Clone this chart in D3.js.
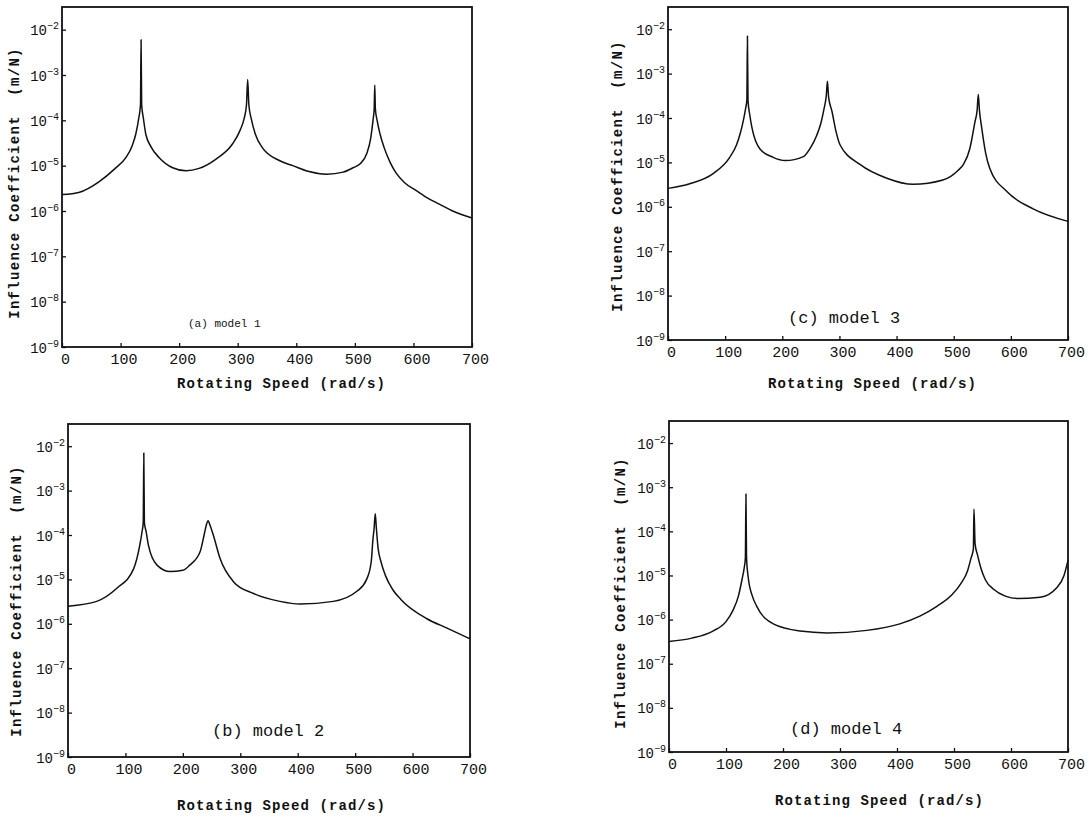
<!DOCTYPE html>
<html>
<head>
<meta charset="utf-8">
<script src="https://cdn.jsdelivr.net/npm/d3@7"></script>
<style>
  body { margin: 0; background: #fff; }
  svg { display: block; }
  text { font-family: "Liberation Mono", "DejaVu Sans Mono", monospace; fill: #111; }
</style>
</head>
<body>
<div id="chart"></div>
<script>
// tick values shared by the four panels
var speedTicks = [0, 100, 200, 300, 400, 500, 600, 700];
var decadeTicks = [1e-9, 1e-8, 1e-7, 1e-6, 1e-5, 1e-4, 1e-3, 1e-2];

// [rotating speed (rad/s), influence coefficient (m/N)]
var model1 = [[0, 2.3e-6], [30, 2.6e-6], [63, 4.4e-6], [90, 8.5e-6], [109, 1.5e-5], [120, 2.8e-5],
  [126, 5e-5], [131, 1.1e-4], [134, 2.2e-4], [135, 6e-3], [136, 2.2e-4], [139, 1.1e-4], [143, 5e-5],
  [152, 2.6e-5], [166, 1.5e-5], [189, 9e-6], [212, 7.7e-6], [234, 8.7e-6], [263, 1.4e-5], [291, 3e-5],
  [304, 6e-5], [311, 1.1e-4], [315, 2.2e-4], [317, 8e-4], [319, 2.2e-4], [323, 1.1e-4], [330, 5e-5],
  [342, 2.5e-5], [371, 1.3e-5], [394, 1e-5], [420, 7.5e-6], [452, 6.5e-6], [480, 7.2e-6], [497, 9e-6],
  [509, 1.1e-5], [520, 1.8e-5], [527, 4e-5], [531, 1e-4], [533, 1.8e-4], [534, 6e-4], [535, 1.8e-4],
  [538, 1e-4], [543, 5e-5], [550, 2.5e-5], [560, 1.2e-5], [570, 7e-6], [585, 4.2e-6], [605, 2.8e-6],
  [625, 1.9e-6], [645, 1.4e-6], [667, 1e-6], [700, 7e-7]];

var model2 = [[0, 2.5e-6], [50, 3.2e-6], [85, 6.3e-6], [114, 1.7e-5], [125, 5.9e-5], [129, 1.2e-4],
  [131, 1.9e-4], [132, 7e-3], [133, 1.9e-4], [136, 1.2e-4], [140, 5.9e-5], [155, 2.1e-5], [178, 1.5e-5],
  [200, 1.6e-5], [212, 2.1e-5], [230, 4.2e-5], [237, 1e-4], [241, 1.7e-4], [244, 2.1e-4], [247, 1.7e-4],
  [253, 1e-4], [265, 2.9e-5], [288, 8.9e-6], [323, 4.8e-6], [369, 3.2e-6], [404, 2.8e-6], [462, 3.2e-6],
  [503, 5.4e-6], [520, 1e-5], [528, 2.5e-5], [531, 8e-5], [533, 1.4e-4], [535, 3e-4], [537, 1.4e-4],
  [540, 5e-5], [545, 2.5e-5], [553, 1.2e-5], [565, 6e-6], [580, 3.5e-6], [625, 1.3e-6], [660, 8e-7],
  [700, 4.6e-7]];

var model3 = [[0, 2.6e-6], [38, 3.3e-6], [79, 5.6e-6], [108, 1.3e-5], [120, 2.5e-5], [126, 4.3e-5],
  [132, 9e-5], [136, 1.7e-4], [138, 2.5e-4], [139, 7e-3], [140, 2.5e-4], [143, 1.2e-4], [147, 6e-5],
  [161, 2e-5], [184, 1.3e-5], [205, 1.1e-5], [237, 1.35e-5], [250, 2.2e-5], [260, 4e-5], [268, 8e-5],
  [273, 1.6e-4], [277, 3.2e-4], [279, 6.7e-4], [281, 3e-4], [287, 1.4e-4], [294, 5e-5], [301, 2.5e-5],
  [336, 9e-6], [383, 4.4e-6], [429, 3.2e-6], [481, 4e-6], [507, 6.5e-6], [517, 9e-6], [528, 2e-5],
  [532, 3.5e-5], [537, 8e-5], [541, 1.5e-4], [543, 3.4e-4], [545, 1.5e-4], [549, 6e-5], [556, 1.6e-5],
  [563, 7.4e-6], [593, 2.2e-6], [639, 9e-7], [700, 4.7e-7]];

var model4 = [[0, 3.2e-7], [40, 3.8e-7], [77, 5.5e-7], [100, 9e-7], [112, 1.6e-6], [122, 3.5e-6],
  [128, 8e-6], [132, 1.5e-5], [134, 2.5e-5], [135, 7e-4], [136, 2.5e-5], [139, 9e-6], [146, 3.5e-6],
  [154, 2e-6], [183, 8e-7], [230, 5.5e-7], [277, 5e-7], [347, 5.7e-7], [405, 8e-7], [440, 1.2e-6],
  [470, 2e-6], [495, 3.5e-6], [512, 6.5e-6], [524, 1.3e-5], [530, 2.5e-5], [534, 4e-5], [535, 3.2e-4],
  [537, 5.2e-5], [541, 3e-5], [547, 1.5e-5], [555, 8e-6], [570, 4.8e-6], [590, 3.4e-6], [611, 3e-6],
  [651, 3.2e-6], [681, 5.4e-6], [693, 1e-5], [700, 2.2e-5]];

var panelLabels = ["(a) model 1", "(b) model 2", "(c) model 3", "(d) model 4"];
var xTitle = "Rotating Speed (rad/s)";
var yTitle = "Influence Coefficient  (m/N)";

// layout of the four boxes on the page: [left, top, right, bottom]
var panels = [
  { data: model1, label: panelLabels[0], box: [62, 7, 472, 347], labelAt: [188, 327], labelSize: 11, xTitleAt: [177, 388], yTitleAt: [14, 183] },
  { data: model2, label: panelLabels[1], box: [68, 424, 470, 757], labelAt: [212, 736], labelSize: 17, xTitleAt: [177, 810], yTitleAt: [16, 601] },
  { data: model3, label: panelLabels[2], box: [668, 7, 1068, 340], labelAt: [788, 323], labelSize: 17, xTitleAt: [768, 388], yTitleAt: [617, 176] },
  { data: model4, label: panelLabels[3], box: [669, 421, 1068, 752], labelAt: [790, 734], labelSize: 17, xTitleAt: [775, 805], yTitleAt: [620, 593] }
];

var svg = d3.select("#chart")
  .append("svg")
  .attr("width", 1092)
  .attr("height", 817);

panels.forEach(function(p) {
  var left = p.box[0], top = p.box[1], right = p.box[2], bottom = p.box[3];

  var x = d3.scaleLinear().domain([0, 700]).range([left, right]);
  var y = d3.scaleLog().domain([1e-9, Math.pow(10, -1.5)]).range([bottom, top]);

  var g = svg.append("g");

  // x axis, short inward ticks
  var xAxis = g.append("g")
    .attr("transform", "translate(0," + bottom + ")")
    .call(d3.axisBottom(x).tickValues(speedTicks).tickSizeInner(-4).tickSizeOuter(0).tickFormat(d3.format("d")));
  xAxis.select(".domain").remove();
  xAxis.selectAll("line").attr("stroke", "#111").attr("stroke-width", 1.3);
  xAxis.selectAll("text")
    .attr("y", 17)
    .attr("dy", "0")
    .attr("dx", 3)
    .attr("fill", "#111")
    .style("font-family", "Liberation Mono")
    .style("font-size", "15px");

  // y axis, decade ticks with 10^n labels
  var yAxis = g.append("g")
    .attr("transform", "translate(" + left + ",0)")
    .call(d3.axisLeft(y).tickValues(decadeTicks).tickSizeInner(-4).tickSizeOuter(0).tickFormat(""));
  yAxis.select(".domain").remove();
  yAxis.selectAll("line").attr("stroke", "#111").attr("stroke-width", 1.3);
  var lab = yAxis.selectAll(".tick").append("text")
    .attr("x", -3)
    .attr("y", 5)
    .attr("text-anchor", "end")
    .style("font-family", "Liberation Mono")
    .style("font-size", "14px");
  lab.append("tspan").text("10");
  lab.append("tspan")
    .attr("dy", -6)
    .style("font-size", "10px")
    .text(function(d) { return String(Math.round(Math.log10(d))).replace("-", "\u2212"); });

  // frame
  g.append("rect")
    .attr("x", left)
    .attr("y", top)
    .attr("width", right - left)
    .attr("height", bottom - top)
    .attr("fill", "none")
    .attr("stroke", "#111")
    .attr("stroke-width", 1.8);

  // curve, smoothed without overshoot
  var line = d3.line()
    .curve(d3.curveMonotoneX)
    .x(function(d) { return x(d[0]); })
    .y(function(d) { return y(d[1]); });

  g.append("path")
    .datum(p.data)
    .attr("d", line)
    .attr("fill", "none")
    .attr("stroke", "#111")
    .attr("stroke-width", 1.5)
    .attr("stroke-linejoin", "round");

  // panel label
  g.append("text")
    .attr("x", p.labelAt[0])
    .attr("y", p.labelAt[1])
    .style("font-size", p.labelSize + "px")
    .text(p.label);

  // axis titles
  g.append("text")
    .attr("x", p.xTitleAt[0])
    .attr("y", p.xTitleAt[1])
    .style("font-size", "14px")
    .style("font-weight", "bold")
    .style("letter-spacing", "1.1px")
    .text(xTitle);

  g.append("text")
    .attr("transform", "translate(" + p.yTitleAt[0] + "," + p.yTitleAt[1] + ") rotate(-90)")
    .attr("text-anchor", "middle")
    .attr("dy", "0.35em")
    .style("font-size", "14px")
    .style("font-weight", "bold")
    .style("letter-spacing", "1.3px")
    .style("white-space", "pre")
    .text(yTitle);
});
</script>
</body>
</html>
